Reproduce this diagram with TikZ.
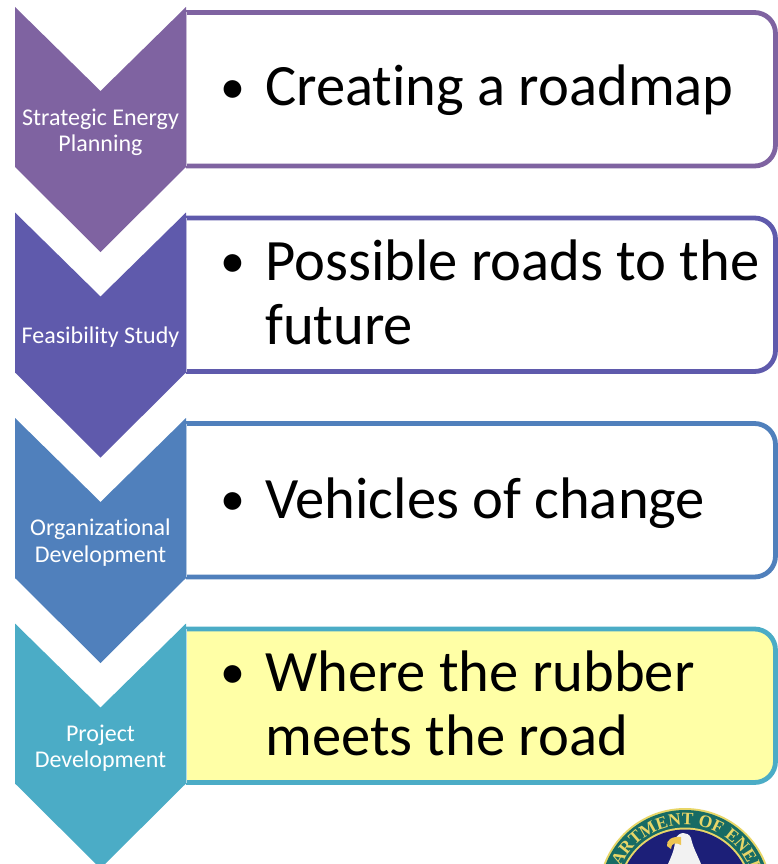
\documentclass[tikz,border=0pt]{standalone}
\usepackage{fontspec}
\setmainfont{Carlito}[Ligatures=NoCommon]
\newfontfamily\sealfont{Liberation Serif}[Scale=1]
\usetikzlibrary{decorations.text}
\definecolor{cA}{HTML}{7F63A1}
\definecolor{cB}{HTML}{5F5AAC}
\definecolor{cC}{HTML}{5080BC}
\definecolor{cD}{HTML}{4BACC6}
\definecolor{noteY}{HTML}{FFFFA6}
\definecolor{sealNavy}{HTML}{1C1F78}
\definecolor{sealTeal}{HTML}{1F8F86}
\definecolor{sealGold}{HTML}{E8D668}
\tikzset{
  x=1pt,y=-1pt,
  chevfill/.style={fill=#1,draw=none},
  noteframe/.style={draw=#1,line width=4.8pt,line join=round},
  sidelabel/.style={anchor=base,text=white,font=\fontsize{24}{28}\selectfont,inner sep=0pt},
  bigtext/.style={anchor=base west,text=black,font=\fontsize{58.6}{64}\selectfont,inner sep=0pt},
  bigbullet/.style={anchor=base west,text=black,font=\fontsize{50}{64}\selectfont,inner sep=0pt},
}
\newcommand{\stage}[3]{%
  \fill[#3] (186,#1+12.5) -- (754.5,#1+12.5) arc[start angle=90,end angle=0,radius=21pt] -- (775.5,#1+145) arc[start angle=0,end angle=-90,radius=21pt] -- (186,#1+166) -- cycle;
  \draw[noteframe=#2] (186,#1+12.5) -- (754.5,#1+12.5) arc[start angle=90,end angle=0,radius=21pt] -- (775.5,#1+145) arc[start angle=0,end angle=-90,radius=21pt] -- (186,#1+166);
  \draw[#2!35!white,line width=0.8pt] (186.6,#1+12.5) -- (186.6,#1+166);
  \fill[chevfill=#2] (15,#1+7) -- (100.5,#1+91) -- (186,#1+7) -- (186,#1+167) -- (100.5,#1+252) -- (15,#1+167) -- cycle;
}
\begin{document}
\begin{tikzpicture}
\useasboundingbox (0,0) rectangle (778,864);
\begin{scope}
\clip (0,0) rectangle (778,864);
\stage{0}{cA}{white}
\stage{205.5}{cB}{white}
\stage{411}{cC}{white}
\stage{616.5}{cD}{noteY}
% seal
\fill[sealGold] (685,895) circle[radius=87];
\fill[sealTeal!75!black] (685,895) circle[radius=85];
\fill[sealGold] (685,895) circle[radius=67.5];
\fill[sealNavy] (685,895) circle[radius=65.5];
\path[decorate,decoration={text along path,text align=center,
  text={|\sealfont\bfseries\fontsize{17.5}{17.5}\selectfont\color{sealGold}|DEPARTMENT OF ENERGY}}]
  (615,895) arc[start angle=180,end angle=0,radius=70pt];
\fill[white!90!gray] (668,864) .. controls (672,855) and (675,848) .. (675,840) .. controls (678,831) and (688,831) .. (691,838) .. controls (693,848) and (698,856) .. (701,864) -- cycle;
\fill[sealGold!80!orange] (667,846) .. controls (666,840) and (672,836) .. (681,837) -- (681,845) .. controls (676,842) and (671,843) .. (671,849) -- cycle;
\end{scope}
% side labels
\node[sidelabel] (l1a) at (100.5,125) {Strategic Energy};
\node[sidelabel] (l1b) at (100.5,151) {Planning};
\node[sidelabel] (l2a) at (100.5,343) {Feasibility Study};
\node[sidelabel] (l3a) at (100.5,535) {Organizational};
\node[sidelabel] (l3b) at (100.5,562) {Development};
\node[sidelabel] (l4a) at (100.5,741) {Project};
\node[sidelabel] (l4b) at (100.5,767) {Development};
% bullets
\node[bigbullet] (b1) at (220,103.5) {•};
\node[bigbullet] (b2) at (220,277.5) {•};
\node[bigbullet] (b3) at (220,515.5) {•};
\node[bigbullet] (b4) at (220,688.5) {•};
% main text
\node[bigtext] (t1) at (265,106) {Creating a roadmap};
\node[bigtext] (t2) at (265,280) {Possible roads to the};
\node[bigtext] (t2b) at (265,344) {future};
\node[bigtext] (t3) at (265,518) {Vehicles of change};
\node[bigtext] (t4) at (265,691) {Where the rubber};
\node[bigtext] (t4b) at (265,755) {meets the road};
\end{tikzpicture}
\end{document}
